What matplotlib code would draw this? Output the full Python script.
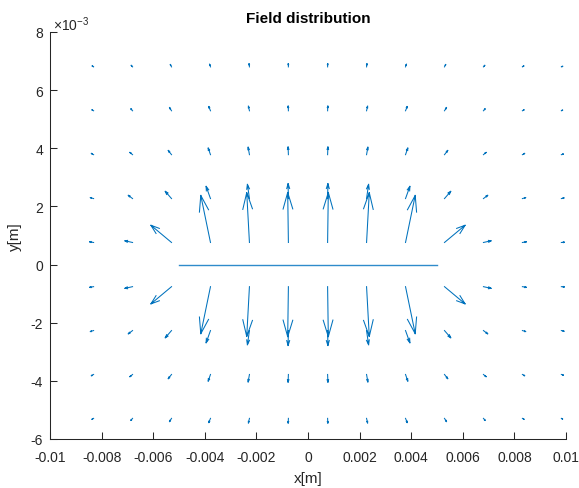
import numpy as np
import matplotlib
matplotlib.use("Agg")
import matplotlib.pyplot as plt

plt.rcParams['font.family'] = ['Liberation Sans', 'DejaVu Sans']
plt.rcParams['axes.unicode_minus'] = False
plt.rcParams['mathtext.fontset'] = 'custom'
plt.rcParams['mathtext.rm'] = 'Liberation Sans'
plt.rcParams['mathtext.it'] = 'Liberation Sans'

# Sample grid (m)
x_grid = [-0.00831, -0.0068, -0.00529, -0.00378, -0.00227, -0.00076,
          0.00076, 0.00227, 0.00378, 0.00529, 0.0068, 0.00831, 0.00982]
y_grid = [-0.00529, -0.00378, -0.00227, -0.00076,
          0.00076, 0.00227, 0.00378, 0.00529, 0.0068]

# Arrow components (units of 1e-5 m), one row per y_grid entry
u_field = [
    [-6.6, -6.6, -7.8, -6.6, -3.9, -0.8, 0.8, 3.9, 6.6, 7.8, 6.6, 6.6, 5.0],
    [-8.9, -10.5, -12.8, -8.9, -5.0, -1.2, 1.2, 5.0, 8.9, 12.8, 10.5, 8.9, 7.8],
    [-12.8, -16.7, -24.4, -17.0, -7.8, -1.2, 1.2, 7.8, 17.0, 24.4, 16.7, 12.8, 10.5],
    [-15.5, -29.8, -80.0, -37.6, -10.5, -2.7, 2.7, 10.5, 37.6, 80.0, 29.8, 15.5, 11.6],
    [-15.5, -29.8, -80.0, -37.6, -10.5, -2.7, 2.7, 10.5, 37.6, 80.0, 29.8, 15.5, 11.6],
    [-12.8, -16.7, -24.4, -17.0, -7.8, -1.2, 1.2, 7.8, 17.0, 24.4, 16.7, 12.8, 10.5],
    [-8.9, -10.5, -12.8, -8.9, -5.0, -1.2, 1.2, 5.0, 8.9, 12.8, 10.5, 8.9, 7.8],
    [-6.6, -6.6, -7.8, -6.6, -3.9, -0.8, 0.8, 3.9, 6.6, 7.8, 6.6, 6.6, 5.0],
    [-5.8, -5.4, -4.8, -3.5, -1.6, -0.4, 0.4, 1.6, 3.5, 4.8, 5.4, 5.8, 5.4],
]
v_field = [
    [-3.4, -6.9, -11.3, -14.7, -16.0, -16.5, -16.5, -16.0, -14.7, -11.3, -6.9, -3.4, -2.4],
    [-4.5, -7.9, -14.7, -23.0, -26.0, -26.8, -26.8, -26.0, -23.0, -14.7, -7.9, -4.5, -2.4],
    [-3.4, -11.3, -25.0, -42.2, -49.0, -51.5, -51.5, -49.0, -42.2, -25.0, -11.3, -3.4, -2.4],
    [-2.4, -5.8, -59.3, -162.0, -171.5, -172.0, -172.0, -171.5, -162.0, -59.3, -5.8, -2.4, -1.0],
    [2.4, 5.8, 59.3, 162.0, 171.5, 172.0, 172.0, 171.5, 162.0, 59.3, 5.8, 2.4, 1.0],
    [3.4, 11.3, 25.0, 42.2, 49.0, 51.5, 51.5, 49.0, 42.2, 25.0, 11.3, 3.4, 2.4],
    [4.5, 7.9, 14.7, 23.0, 26.0, 26.8, 26.8, 26.0, 23.0, 14.7, 7.9, 4.5, 2.4],
    [3.4, 6.9, 11.3, 14.7, 16.0, 16.5, 16.5, 16.0, 14.7, 11.3, 6.9, 3.4, 2.4],
    [3.4, 5.5, 8.3, 9.3, 11.0, 11.3, 11.3, 11.0, 9.3, 8.3, 5.5, 3.4, 2.1],
]

# Charged strip along the x axis
strip_x = [-0.005, 0.005]
strip_y = [0.0, 0.0]

x_ticks = [-0.01, -0.008, -0.006, -0.004, -0.002, 0, 0.002, 0.004, 0.006, 0.008, 0.01]
x_tick_labels = ['-0.01', '-0.008', '-0.006', '-0.004', '-0.002', '0',
                 '0.002', '0.004', '0.006', '0.008', '0.01']
y_ticks = [-0.006, -0.004, -0.002, 0, 0.002, 0.004, 0.006, 0.008]
y_tick_labels = ['-6', '-4', '-2', '0', '2', '4', '6', '8']

blue = '#0072BD'
ink = '#262626'

fig = plt.figure(figsize=(5.79, 4.89), dpi=100)
ax = fig.add_axes([50 / 579, 49 / 489, 516 / 579, 407 / 489])

X, Y = np.meshgrid(np.array(x_grid), np.array(y_grid))
U = np.array(u_field) * 1e-5
V = np.array(v_field) * 1e-5

# Quiver-style arrows: shaft plus open two-line head
alpha, beta = 0.33, 0.33
tx, ty = X + U, Y + V
xs, ys = [], []
for x0, y0, x1, y1, u, v in zip(X.ravel(), Y.ravel(), tx.ravel(), ty.ravel(), U.ravel(), V.ravel()):
    xs += [x0, x1, np.nan]
    ys += [y0, y1, np.nan]
    xs += [x1 - alpha * (u + beta * v), x1, x1 - alpha * (u - beta * v), np.nan]
    ys += [y1 - alpha * (v - beta * u), y1, y1 - alpha * (v + beta * u), np.nan]
ax.plot(xs, ys, color=blue, lw=0.75, solid_joinstyle='miter')

ax.plot(strip_x, strip_y, color='#2F8BCB', lw=1.0)

ax.set_xlim(-0.01, 0.01)
ax.set_ylim(-0.006, 0.008)
ax.set_xticks(x_ticks)
ax.set_xticklabels(x_tick_labels)
ax.set_yticks(y_ticks)
ax.set_yticklabels(y_tick_labels)
ax.tick_params(direction='in', length=5, width=0.75, colors=ink, labelsize=10)
ax.tick_params(axis='x', pad=8)
ax.tick_params(axis='y', pad=5)
for side in ('top', 'right'):
    ax.spines[side].set_visible(False)
for side in ('left', 'bottom'):
    ax.spines[side].set_color(ink)
    ax.spines[side].set_linewidth(0.75)

ax.text(0.006, 0.998, r'$\times10^{-3}$', transform=ax.transAxes, fontsize=10,
        color=ink, ha='left', va='bottom')

ax.set_title('Field distribution', fontsize=11, fontweight='bold', color='black', pad=7)
ax.set_xlabel('x[m]', fontsize=11, color=ink, labelpad=5)
ax.set_ylabel('y[m]', fontsize=11, color=ink, labelpad=6)

fig.savefig('out.png', dpi=100)
